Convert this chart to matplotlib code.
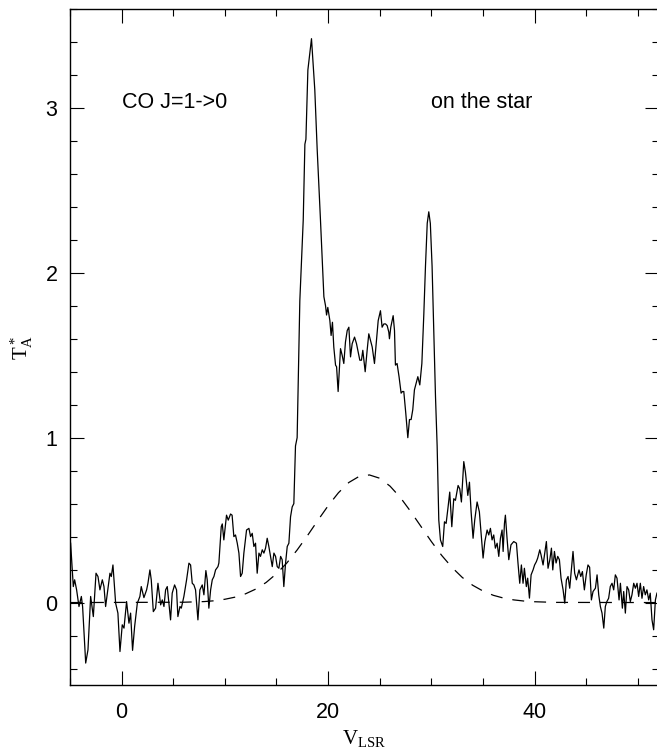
import matplotlib
matplotlib.use("Agg")
import matplotlib.pyplot as plt
from matplotlib.ticker import MultipleLocator

# CO J=1->0 spectrum (V_LSR in km/s, T_A* in K)
vlsr = [
    -4.94, -4.68, -4.55, -4.36, -4.13, -3.90, -3.78, -3.48, -3.26, -3.00,
    -2.74, -2.48, -2.29, -2.10, -1.87, -1.71, -1.55, -1.13, -1.00, -0.84,
    -0.58, -0.36, -0.16, 0.06, 0.23, 0.48, 0.71, 0.87, 1.06, 1.26,
    1.52, 1.77, 1.90, 2.16, 2.42, 2.55, 2.74, 2.87, 3.07, 3.29,
    3.52, 3.78, 3.94, 4.10, 4.26, 4.42, 4.58, 4.74, 4.90, 5.13,
    5.32, 5.45, 5.65, 5.78, 6.03, 6.29, 6.52, 6.68, 6.84, 7.00,
    7.16, 7.39, 7.58, 7.81, 7.97, 8.16, 8.29, 8.45, 8.62, 8.78,
    8.94, 9.10, 9.33, 9.42, 9.65, 9.75, 9.90, 10.16, 10.33, 10.55,
    10.70, 10.87, 11.03, 11.20, 11.36, 11.52, 11.68, 11.84, 12.10, 12.33,
    12.49, 12.65, 12.81, 12.97, 13.13, 13.30, 13.45, 13.62, 13.78, 13.94,
    14.10, 14.26, 14.42, 14.59, 14.75, 14.91, 15.07, 15.23, 15.40, 15.55,
    15.71, 15.88, 16.04, 16.20, 16.36, 16.52, 16.68, 16.84, 17.00, 17.26,
    17.59, 17.75, 17.85, 18.04, 18.39, 18.71, 18.94, 19.26, 19.59, 19.75,
    19.85, 19.97, 20.17, 20.29, 20.42, 20.55, 20.72, 20.82, 20.97, 21.20,
    21.36, 21.52, 21.68, 21.85, 22.01, 22.17, 22.33, 22.56, 22.75, 22.88,
    23.07, 23.23, 23.36, 23.59, 23.78, 23.94, 24.10, 24.27, 24.49, 24.68,
    24.85, 25.07, 25.23, 25.40, 25.56, 25.72, 25.88, 25.94, 26.07, 26.30,
    26.43, 26.52, 26.68, 26.87, 27.07, 27.20, 27.33, 27.52, 27.72, 27.88,
    28.04, 28.20, 28.36, 28.56, 28.69, 28.88, 29.08, 29.27, 29.43, 29.60,
    29.75, 29.90, 30.07, 30.24, 30.40, 30.56, 30.72, 30.88, 31.10, 31.27,
    31.43, 31.62, 31.78, 31.98, 32.17, 32.33, 32.59, 32.75, 32.91, 33.14,
    33.30, 33.53, 33.69, 33.85, 34.04, 34.20, 34.43, 34.65, 34.82, 35.01,
    35.18, 35.40, 35.56, 35.72, 35.88, 36.04, 36.20, 36.37, 36.53, 36.69,
    36.85, 36.95, 37.08, 37.17, 37.33, 37.50, 37.71, 37.98, 38.24, 38.39,
    38.56, 38.72, 38.88, 39.01, 39.20, 39.33, 39.50, 39.66, 39.85, 40.00,
    40.17, 40.30, 40.50, 40.62, 40.82, 40.98, 41.14, 41.30, 41.47, 41.63,
    41.76, 41.92, 42.08, 42.24, 42.40, 42.56, 42.76, 42.92, 43.08, 43.24,
    43.40, 43.56, 43.72, 43.88, 44.05, 44.17, 44.30, 44.47, 44.63, 44.82,
    45.00, 45.17, 45.33, 45.50, 45.66, 45.89, 46.05, 46.21, 46.37, 46.53,
    46.70, 46.85, 47.00, 47.17, 47.33, 47.50, 47.66, 47.82, 47.98, 48.18,
    48.31, 48.50, 48.63, 48.79, 48.95, 49.11, 49.27, 49.43, 49.60, 49.76,
    49.92, 50.08, 50.24, 50.40, 50.56, 50.72, 50.88, 51.05, 51.20, 51.37,
    51.53, 51.70, 51.85, 52.00,
]
ta = [
    0.36, 0.097, 0.138, 0.077, -0.024, 0.037, -0.024, -0.367, -0.287, 0.037,
    -0.085, 0.178, 0.158, 0.077, 0.138, 0.097, -0.024, 0.178, 0.158, 0.228,
    -0.004, -0.064, -0.297, -0.135, -0.155, 0.006, -0.125, -0.064, -0.29, -0.145,
    -0.004, 0.037, 0.097, 0.03, 0.077, 0.117, 0.198, 0.138, -0.055, -0.034,
    0.117, -0.014, 0.016, -0.024, 0.077, 0.097, -0.004, -0.105, 0.057, 0.107,
    0.077, -0.085, -0.024, -0.034, 0.037, 0.137, 0.239, 0.228, 0.117, 0.107,
    0.077, -0.105, 0.077, 0.107, 0.047, 0.194, 0.138, -0.034, 0.077, 0.138,
    0.158, 0.198, 0.218, 0.24, 0.46, 0.477, 0.38, 0.53, 0.50, 0.537,
    0.53, 0.40, 0.41, 0.36, 0.30, 0.158, 0.178, 0.30, 0.44, 0.45,
    0.40, 0.42, 0.34, 0.36, 0.178, 0.30, 0.28, 0.32, 0.30, 0.33,
    0.39, 0.34, 0.28, 0.218, 0.30, 0.28, 0.218, 0.208, 0.28, 0.26,
    0.097, 0.24, 0.34, 0.36, 0.52, 0.58, 0.60, 0.95, 1.00, 1.83,
    2.32, 2.78, 2.81, 3.23, 3.42, 3.11, 2.75, 2.32, 1.855, 1.80,
    1.744, 1.79, 1.71, 1.62, 1.70, 1.55, 1.44, 1.43, 1.28, 1.54,
    1.50, 1.45, 1.58, 1.65, 1.67, 1.49, 1.57, 1.61, 1.57, 1.53,
    1.47, 1.47, 1.53, 1.40, 1.53, 1.63, 1.59, 1.55, 1.45, 1.59,
    1.71, 1.77, 1.67, 1.69, 1.69, 1.68, 1.64, 1.60, 1.67, 1.74,
    1.65, 1.44, 1.45, 1.37, 1.27, 1.28, 1.28, 1.15, 1.00, 1.11,
    1.11, 1.17, 1.29, 1.34, 1.37, 1.32, 1.45, 1.75, 2.04, 2.30,
    2.37, 2.30, 2.04, 1.63, 1.25, 0.95, 0.50, 0.38, 0.34, 0.49,
    0.48, 0.58, 0.67, 0.46, 0.63, 0.62, 0.71, 0.69, 0.61, 0.855,
    0.79, 0.65, 0.73, 0.55, 0.39, 0.50, 0.61, 0.55, 0.42, 0.27,
    0.37, 0.44, 0.41, 0.45, 0.38, 0.41, 0.33, 0.36, 0.28, 0.39,
    0.44, 0.31, 0.48, 0.53, 0.39, 0.26, 0.35, 0.37, 0.36, 0.24,
    0.117, 0.228, 0.117, 0.208, 0.097, 0.148, 0.027, 0.168, 0.198, 0.228,
    0.248, 0.27, 0.32, 0.29, 0.228, 0.298, 0.37, 0.208, 0.258, 0.33,
    0.198, 0.31, 0.24, 0.28, 0.26, 0.148, 0.077, -0.004, 0.137, 0.158,
    0.087, 0.198, 0.31, 0.178, 0.138, 0.168, 0.198, 0.158, 0.188, 0.077,
    0.168, 0.228, 0.214, 0.016, 0.067, 0.087, 0.168, 0.047, -0.024, -0.064,
    -0.155, -0.024, 0.006, 0.026, 0.097, 0.117, 0.077, 0.168, 0.148, 0.016,
    0.117, -0.034, 0.067, -0.064, 0.097, 0.077, 0.006, 0.047, 0.117, 0.087,
    0.117, 0.037, 0.117, 0.026, 0.097, 0.047, 0.077, 0.016, 0.057, -0.105,
    -0.165, 0.016, 0.057, 0.07,
]

# dashed curve (fitted component)
fit_v = [-5, 6, 8, 9, 10, 11, 12, 13, 14, 15, 16, 17, 18, 19, 20, 21, 22, 23,
         24, 25, 26, 27, 28, 29, 30, 31, 32, 33, 34, 35, 36, 37, 38, 39, 40,
         42, 52]
fit_t = [0.0, 0.002, 0.006, 0.011, 0.020, 0.033, 0.053, 0.082, 0.122, 0.175,
         0.240, 0.319, 0.406, 0.498, 0.587, 0.666, 0.728, 0.765, 0.774, 0.754,
         0.706, 0.637, 0.552, 0.461, 0.370, 0.286, 0.213, 0.152, 0.105, 0.070,
         0.044, 0.027, 0.016, 0.009, 0.005, 0.001, 0.0]

plt.rcParams['font.family'] = ['Liberation Sans', 'DejaVu Sans']
plt.rcParams['mathtext.fontset'] = 'custom'
plt.rcParams['mathtext.rm'] = 'Liberation Serif'
plt.rcParams['mathtext.it'] = 'Liberation Serif:italic'
plt.rcParams['lines.scale_dashes'] = False

fig = plt.figure(figsize=(6.57, 7.55), dpi=100)
ax = fig.add_axes([70 / 657, 70 / 755, 588.5 / 657, 676 / 755])

ax.plot(vlsr, ta, color='black', lw=0.9)
ax.plot(fit_v, fit_t, color='black', lw=0.9, dashes=(8.6, 7.2))

ax.set_xlim(-5, 52)
ax.set_ylim(-0.5, 3.6)

ax.xaxis.set_major_locator(MultipleLocator(20))
ax.xaxis.set_minor_locator(MultipleLocator(5))
ax.yaxis.set_major_locator(MultipleLocator(1))
ax.yaxis.set_minor_locator(MultipleLocator(0.2))
ax.tick_params(which='both', direction='in', top=True, right=True,
               width=0.8, labelsize=15.5)
ax.tick_params(which='major', length=10)
ax.tick_params(which='minor', length=5)
ax.tick_params(axis='x', which='major', pad=12)
ax.tick_params(axis='y', which='major', pad=9)
for sp in ax.spines.values():
    sp.set_linewidth(1.0)

ax.set_xlabel(r'$\mathrm{V_{LSR}}$', fontsize=15)
ax.xaxis.set_label_coords(0.5, -0.064)
ax.set_ylabel(r'$\mathrm{T_A^*}$', fontsize=15)
ax.yaxis.set_label_coords(-0.06, 0.5)

ax.text(0, 3.0, 'CO J=1->0', fontsize=15.5, va='baseline', ha='left')
ax.text(30, 3.0, 'on the star', fontsize=15.5, va='baseline', ha='left')

fig.savefig('out.png', dpi=100)
